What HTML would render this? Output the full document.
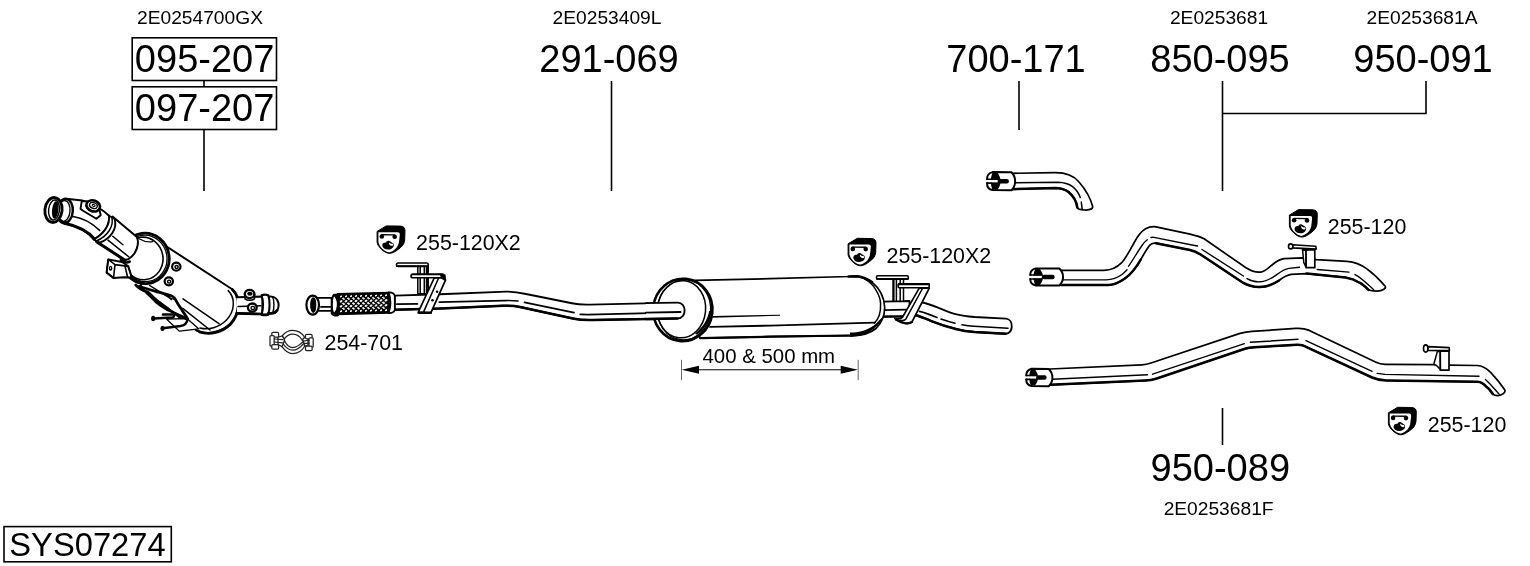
<!DOCTYPE html>
<html><head><meta charset="utf-8">
<style>
html,body{margin:0;padding:0;background:#fff;}
body{width:1530px;height:566px;overflow:hidden;}
svg{display:block;filter:grayscale(1);}
text{font-family:"Liberation Sans",sans-serif;fill:#000;}
.big{font-size:38px;}
.sm{font-size:19.2px;}
.md{font-size:21.4px;}
.ln{stroke:#000;stroke-width:1.6;fill:none;}
.p{stroke:#000;fill:#fff;stroke-linejoin:round;stroke-linecap:round;}
.pn{stroke:#000;fill:none;stroke-linejoin:round;stroke-linecap:round;}
.t{stroke:#000;fill:none;stroke-linejoin:round;stroke-linecap:round;}
</style></head><body>
<svg width="1530" height="566" viewBox="0 0 1530 566">
<rect width="1530" height="566" fill="#fff"/>
<!-- LABELS -->
<g id="labels">
<text class="sm" x="200" y="24.3" text-anchor="middle">2E0254700GX</text>
<text class="big" x="204.6" y="72.2" text-anchor="middle">095-207</text>
<text class="big" x="204.6" y="121.2" text-anchor="middle">097-207</text>
<text class="sm" x="607" y="24.3" text-anchor="middle">2E0253409L</text>
<text class="big" x="609" y="72.2" text-anchor="middle">291-069</text>
<text class="big" x="1016" y="72.2" text-anchor="middle">700-171</text>
<text class="sm" x="1219" y="24.3" text-anchor="middle">2E0253681</text>
<text class="big" x="1220" y="72.2" text-anchor="middle">850-095</text>
<text class="sm" x="1422" y="24.3" text-anchor="middle">2E0253681A</text>
<text class="big" x="1423" y="72.2" text-anchor="middle">950-091</text>
<text class="big" x="1220.3" y="481" text-anchor="middle">950-089</text>
<text class="sm" x="1218.6" y="515.2" text-anchor="middle">2E0253681F</text>
<text class="md" x="416.1" y="250.3">255-120X2</text>
<text class="md" x="324.5" y="350.3">254-701</text>
<text class="md" x="886.5" y="262.5">255-120X2</text>
<text class="md" x="1327.8" y="234.3">255-120</text>
<text class="md" x="1427.8" y="431.9">255-120</text>
<text style="font-size:20.4px" x="702.5" y="363.2">400 &amp; 500 mm</text>
<text style="font-size:32.7px" x="9.3" y="555.6">SYS07274</text>
</g>
<!-- LEADER LINES -->
<g id="lines" class="ln">
<rect x="132.2" y="37.8" width="144.3" height="42.7"/>
<rect x="132.2" y="86.8" width="144.3" height="42.7"/>
<path d="M204 80.5V86.5M204 129.5V191"/>
<path d="M611.5 81V191"/>
<path d="M1019 81V130"/>
<path d="M1222.5 81V191M1222.5 113.5H1426V81"/>
<path d="M1222.5 408V445"/>
<rect x="4" y="526.6" width="167.3" height="35.2"/>
</g>
<!-- PARTS -->
<g id="parts" stroke-width="1.6">
<g id="cat">
<!-- main body -->
<path class="p" stroke-width="2" d="M162,243.5 L231.8,289 C240.5,296 240.5,313 230,324 C221,332.5 207,335.5 196.5,330.5 L140,287 Z"/>
<!-- end cap band -->
<path class="pn" stroke-width="1.5" d="M228.2,290.6 C235.6,298 235,311 226.5,320 C219,327.6 208.5,330.3 200,328"/>
<path class="pn" stroke-width="2.8" d="M232.3,289.6 C241.2,298 240.2,314 230.2,324.5 C222,332.3 210,335.3 199.5,332"/>
<!-- body highlights -->
<path class="t" stroke-width="1.5" d="M183,298.9 L219,323.7 M182.8,308.3 L210,330"/>
<!-- thin plate below -->
<path class="p" stroke-width="1.3" d="M166.7,319.2 L179.4,331.2 L198.9,328.9 L187,318.5 Z"/>
<!-- heat shield thick strokes -->
<path class="pn" stroke-width="1.4" d="M149.5,285.3 L167.9,296.8 L171.5,299.6"/>
<path class="pn" stroke-width="2.6" d="M135.7,285 C139,288.5 143,290.5 147.2,292.4"/>
<path class="pn" stroke-width="4" d="M147.2,292.4 C151,295.5 153.5,298.6 156.4,301.4 C160,304.4 164,307 167.9,309.4"/>
<path class="pn" stroke-width="2.9" d="M167.9,309.4 C172,311.8 177,314.2 181.6,316.3 L186.4,318.8"/>
<path class="pn" stroke-width="2.8" d="M139.2,286.5 C146,288.4 152,290.2 158.7,292.2 C163,293.5 167.5,294.2 171.3,295.7 C174,297 175,298.6 175.9,300.3 C177.6,303.6 179.5,306.5 181.6,309.4 C183.6,312.5 185.5,315.6 187.6,318.8"/>
<path fill="#fff" stroke="#000" stroke-width="1" d="M167.5,296.4 L171.6,296.6 L173.6,299.4 Z"/>
<!-- studs -->
<path class="pn" stroke-width="2.5" d="M153.4,318.5 L172.5,317.4 C174.6,317 174.6,314.5 172.6,314.4 L163,314.6"/>
<path class="pn" stroke-width="2.5" d="M162.8,328.3 L180.5,326.1 C185,325.3 187.2,323 187.5,319"/>
<ellipse cx="153.2" cy="318.5" rx="2.1" ry="2.8" fill="#000"/>
<ellipse cx="162.5" cy="328.4" rx="2.1" ry="2.6" fill="#000"/>
<!-- big ring -->
<ellipse class="p" stroke-width="2.8" cx="145.2" cy="258.4" rx="24" ry="25.2" transform="rotate(-8 145.2 258.4)"/>
<ellipse class="pn" stroke-width="1.3" cx="145" cy="258.4" rx="22" ry="23.3" transform="rotate(-8 145 258.4)"/>
<ellipse class="pn" stroke-width="1.6" cx="143.2" cy="258.4" rx="19.8" ry="21.3" transform="rotate(-8 143.2 258.4)"/>
<path class="t" stroke-width="1.3" d="M139,238.8 C144,241.8 149,242.2 152.8,241.7"/>
<!-- bolts on body -->
<g class="pn" stroke-width="2.2"><ellipse cx="176.3" cy="266.7" rx="4.2" ry="4"/><ellipse cx="168.8" cy="281.3" rx="4.2" ry="4"/></g>
<g class="t" stroke-width="1.4"><ellipse cx="176.6" cy="267" rx="1.6" ry="1.5"/><ellipse cx="169.1" cy="281.6" rx="1.6" ry="1.5"/></g>
<!-- neck cylinder -->
<path class="p" stroke-width="2" d="M112.5,216.5 L136.6,236.8 C140,243 136.5,254.5 128.2,259.3 L124.5,260 L96,241.5 Z"/>
<path class="pn" stroke-width="3" d="M97,242 L125,260.2"/>
<path class="t" stroke-width="1.5" d="M112.8,236.3 L122.9,244.8 M108,240.2 L129,257"/>
<!-- small bracket box -->
<path class="p" stroke-width="1.9" d="M108.2,259.4 L122,262 L128,266 L131.8,277.5 L124,277.2 L113.5,278 L106.6,272.6 Z"/>
<path class="pn" stroke-width="1.6" d="M108.2,259.4 L106.6,272.6 L113.5,278 L115,264.6 Z M115,264.6 L128.5,266.4 M128.5,266.4 L131.8,277.5 M125,266 L127.6,277.2"/>
<ellipse class="pn" stroke-width="1.4" cx="110.6" cy="268.2" rx="1.1" ry="1.8"/>
<path class="pn" stroke-width="2.4" d="M121,260.5 C124,262.6 126.5,263.2 129.8,261.6"/>
<!-- elbow -->
<path class="p" stroke-width="2" d="M66,198.7 L82.5,200.6 C94,204 103,210 109.1,215.8 C110,225 104,234 93.8,239.5 C88,231.5 80,226.5 64.5,223.3 Z"/>
<path class="pn" stroke-width="3" d="M64.5,223.3 C80,226.5 88,231.5 95,239.4"/>
<path class="t" stroke-width="1.7" d="M73,216.5 C83,218 92,223 99.6,230.3"/>
<!-- clamp ring -->
<path class="p" stroke-width="1.9" d="M109.1,215.8 L114.6,219 C117.6,228 111,238.5 99.6,242.7 L93.8,239.5 C104,234 110,225 109.1,215.8 Z"/>
<path class="pn" stroke-width="1.5" d="M111.8,217.2 C114,226 108,236 96.4,241"/>
<!-- sensor boss -->
<path class="p" stroke-width="1.9" d="M81.8,201 L80.5,208.8 L82.6,210.5 L96.4,218.8 L100.7,215.2 L99.6,210.5 L90,201.5 Z"/>
<ellipse class="p" stroke-width="2.6" cx="93.2" cy="205.9" rx="7" ry="5.4" transform="rotate(20 93.2 205.9)"/>
<ellipse class="pn" stroke-width="1.4" cx="93.4" cy="205.5" rx="4" ry="2.8" transform="rotate(20 93.4 205.5)"/>
<ellipse class="pn" stroke-width="1" cx="93.6" cy="205.4" rx="1.6" ry="1" transform="rotate(20 93.6 205.4)"/>
<!-- neck ring -->
<ellipse class="p" stroke-width="2.4" cx="65" cy="211" rx="7.8" ry="12.2" transform="rotate(5 65 211)"/>
<ellipse class="pn" stroke-width="1.4" cx="64" cy="211" rx="6" ry="10.4" transform="rotate(5 64 211)"/>
<path class="pn" stroke-width="3.2" d="M60.5,220.5 C62.5,222.6 65,223.3 67.5,222.6"/>
<!-- flange -->
<ellipse class="p" stroke-width="2.9" cx="53.5" cy="210" rx="8.6" ry="12.5" transform="rotate(6 53.5 210)"/>
<ellipse class="pn" stroke-width="1.4" cx="54" cy="210" rx="5.4" ry="10" transform="rotate(6 54 210)"/>
<ellipse cx="55.2" cy="210" rx="3.2" ry="8.7" fill="#000" transform="rotate(6 55.2 210)"/>
<!-- outlet pipe -->
<path class="p" stroke-width="1.9" d="M236.5,297.3 L262.4,296.5 L262.4,314 L237,313.2"/>
<path class="pn" stroke-width="2.6" d="M237,313.4 L261,314"/>
<path class="t" stroke-width="1.5" d="M238,306.6 L261,305.8"/>
<path class="p" stroke-width="2" d="M268,296.6 C272,296 276,297.6 277.4,300.2 C278.8,303 278.8,307.5 277.2,310.2 C275.6,312.6 272,313.8 268,313.2 Z"/>
<path class="pn" stroke-width="1.4" d="M272.6,296.8 C274.4,300.5 274.4,309 272.6,313"/>
<path class="p" stroke-width="2.1" d="M261.6,295.3 C263.5,294.6 266.5,294.6 268.2,295.2 C270,300 270,309.5 268.2,314.5 C266.5,315 263.5,315 261.6,314.5 C263.2,309 263.2,300.5 261.6,295.3 Z"/>
<path class="pn" stroke-width="2.8" d="M262,314.6 C264,315.1 266.5,315 268.2,314.5 M268.5,313.2 C272,313.8 275.6,312.6 277.2,310.2"/>
<path class="p" stroke-width="1.6" d="M244.7,294.5 L245,298.8 C247.5,300.8 252,300.8 254.4,298.8 L254.6,294.5 Z"/>
<ellipse class="p" stroke-width="2.4" cx="249.6" cy="294" rx="4.8" ry="4.1"/>
<ellipse cx="249.9" cy="293.7" rx="2.7" ry="2" fill="#000"/>
<ellipse class="p" stroke-width="2.3" cx="252.3" cy="307.6" rx="4.4" ry="4.1"/>
<ellipse class="pn" stroke-width="1.3" cx="252.8" cy="307.9" rx="1.8" ry="1.6"/>
</g>
<g id="front">
<!-- pipe body -->
<path class="p" stroke-width="1.9" d="M394.6,295.6 L440,294.2 L506,291.6 C514,291.4 519,292.4 526,294 L572,303.3 C577,304.4 582,304.8 590,304.6 L677.5,302.6 C687,302.4 687,318.6 677.5,318.4 L592.9,320 C585,320.2 580,320 574,318.8 L520,307 C514,305.7 509,305.5 503,305.8 L440,308.6 L394.6,309.7 Z"/>
<path class="pn" stroke-width="2.5" d="M394.6,309.7 L440,308.6 L503,305.8 C509,305.5 514,305.7 520,307 L574,318.8 C580,320 585,320.2 592.9,320 L677.5,318.4"/>
<path class="t" stroke-width="1.7" d="M396.9,304.2 L417.5,303.9 M439.3,302.2 L504,300.6 C510,300.4 514,300.5 518,301 M524.5,302.4 L574,312.6 M580.2,314.4 L588,314.6 L681,312.4"/>
<!-- hanger 1 -->
<path class="p" stroke-width="1.5" d="M417.8,266 L417.8,293.8 L428.2,293.8 L428.2,266 Z"/>
<path class="pn" stroke-width="1.5" d="M420.2,266.5 V293.8 M424.3,266.5 V293.8"/>
<path class="pn" stroke-width="2.4" d="M427,266 V293.5"/>
<rect class="p" stroke-width="1.6" x="396.5" y="263" width="31.8" height="3.4" rx="1.7"/>
<path class="pn" stroke-width="1.8" d="M397,266.2 H428"/>
<path class="p" stroke-width="1.7" d="M434.2,278 L418.7,311.2 L419,313.2 L430.7,313.2 L445.5,280.2 L441,277.5 Z"/>
<path class="pn" stroke-width="1.5" d="M438.4,278.5 L423.3,312.6"/>
<path class="pn" stroke-width="2.6" d="M418.6,312.5 L430.7,312.8"/>
<circle cx="437.1" cy="291.7" r="1.3" fill="#000"/><circle cx="432.5" cy="300.3" r="1.3" fill="#000"/>
<rect class="p" stroke-width="1.6" x="411" y="274.2" width="33" height="3.6" rx="1.8"/>
<path class="pn" stroke-width="1.8" d="M412,274.3 H443"/>
<path d="M439.5,273.6 L445.5,274.5 L446.2,280 L441,278 Z" fill="#000"/>
<!-- flex section -->
<path fill="#000" stroke="#000" stroke-width="1.6" stroke-linejoin="round" d="M337.4,293.9 L389.1,292.6 L389.1,312.9 L337.4,314.4 Z"/>
<path fill="#fff" stroke="#fff" stroke-width="0.9" stroke-linejoin="round" d="M340.00,296.78 L341.00,295.88 L342.00,296.08 L341.00,296.98 Z M345.00,296.66 L346.00,295.76 L347.00,295.96 L346.00,296.86 Z M350.00,296.54 L351.00,295.64 L352.00,295.84 L351.00,296.74 Z M355.00,296.42 L356.00,295.52 L357.00,295.72 L356.00,296.62 Z M360.00,296.30 L361.00,295.40 L362.00,295.60 L361.00,296.50 Z M365.00,296.18 L366.00,295.28 L367.00,295.48 L366.00,296.38 Z M370.00,296.06 L371.00,295.16 L372.00,295.36 L371.00,296.26 Z M375.00,295.94 L376.00,295.04 L377.00,295.24 L376.00,296.14 Z M380.00,295.82 L381.00,294.92 L382.00,295.12 L381.00,296.02 Z M385.00,295.70 L386.00,294.80 L387.00,295.00 L386.00,295.90 Z M342.35,298.50 L343.50,298.10 L344.65,299.20 L343.50,299.60 Z M347.35,298.38 L348.50,297.98 L349.65,299.08 L348.50,299.48 Z M352.35,298.26 L353.50,297.86 L354.65,298.96 L353.50,299.36 Z M357.35,298.14 L358.50,297.74 L359.65,298.84 L358.50,299.24 Z M362.35,298.02 L363.50,297.62 L364.65,298.72 L363.50,299.12 Z M367.35,297.90 L368.50,297.50 L369.65,298.60 L368.50,299.00 Z M372.35,297.78 L373.50,297.38 L374.65,298.48 L373.50,298.88 Z M377.35,297.66 L378.50,297.26 L379.65,298.36 L378.50,298.76 Z M382.35,297.54 L383.50,297.14 L384.65,298.24 L383.50,298.64 Z M339.75,301.74 L341.00,300.54 L342.25,301.04 L341.00,302.24 Z M344.75,301.62 L346.00,300.42 L347.25,300.92 L346.00,302.12 Z M349.75,301.50 L351.00,300.30 L352.25,300.80 L351.00,302.00 Z M354.75,301.38 L356.00,300.18 L357.25,300.68 L356.00,301.88 Z M359.75,301.26 L361.00,300.06 L362.25,300.56 L361.00,301.76 Z M364.75,301.14 L366.00,299.94 L367.25,300.44 L366.00,301.64 Z M369.75,301.02 L371.00,299.82 L372.25,300.32 L371.00,301.52 Z M374.75,300.90 L376.00,299.70 L377.25,300.20 L376.00,301.40 Z M379.75,300.78 L381.00,299.58 L382.25,300.08 L381.00,301.28 Z M384.75,300.66 L386.00,299.46 L387.25,299.96 L386.00,301.16 Z M342.25,303.46 L343.50,302.91 L344.75,304.16 L343.50,304.71 Z M347.25,303.34 L348.50,302.79 L349.75,304.04 L348.50,304.59 Z M352.25,303.22 L353.50,302.67 L354.75,303.92 L353.50,304.47 Z M357.25,303.10 L358.50,302.55 L359.75,303.80 L358.50,304.35 Z M362.25,302.98 L363.50,302.43 L364.75,303.68 L363.50,304.23 Z M367.25,302.86 L368.50,302.31 L369.75,303.56 L368.50,304.11 Z M372.25,302.74 L373.50,302.19 L374.75,303.44 L373.50,303.99 Z M377.25,302.62 L378.50,302.07 L379.75,303.32 L378.50,303.87 Z M382.25,302.50 L383.50,301.95 L384.75,303.20 L383.50,303.75 Z M339.75,306.70 L341.00,305.50 L342.25,306.00 L341.00,307.20 Z M344.75,306.58 L346.00,305.38 L347.25,305.88 L346.00,307.08 Z M349.75,306.46 L351.00,305.26 L352.25,305.76 L351.00,306.96 Z M354.75,306.34 L356.00,305.14 L357.25,305.64 L356.00,306.84 Z M359.75,306.22 L361.00,305.02 L362.25,305.52 L361.00,306.72 Z M364.75,306.10 L366.00,304.90 L367.25,305.40 L366.00,306.60 Z M369.75,305.98 L371.00,304.78 L372.25,305.28 L371.00,306.48 Z M374.75,305.86 L376.00,304.66 L377.25,305.16 L376.00,306.36 Z M379.75,305.74 L381.00,304.54 L382.25,305.04 L381.00,306.24 Z M384.75,305.62 L386.00,304.42 L387.25,304.92 L386.00,306.12 Z M342.35,308.42 L343.50,308.02 L344.65,309.12 L343.50,309.52 Z M347.35,308.30 L348.50,307.90 L349.65,309.00 L348.50,309.40 Z M352.35,308.18 L353.50,307.78 L354.65,308.88 L353.50,309.28 Z M357.35,308.06 L358.50,307.66 L359.65,308.76 L358.50,309.16 Z M362.35,307.94 L363.50,307.54 L364.65,308.64 L363.50,309.04 Z M367.35,307.82 L368.50,307.42 L369.65,308.52 L368.50,308.92 Z M372.35,307.70 L373.50,307.30 L374.65,308.40 L373.50,308.80 Z M377.35,307.58 L378.50,307.18 L379.65,308.28 L378.50,308.68 Z M382.35,307.46 L383.50,307.06 L384.65,308.16 L383.50,308.56 Z M340.00,311.66 L341.00,310.76 L342.00,310.96 L341.00,311.86 Z M345.00,311.54 L346.00,310.64 L347.00,310.84 L346.00,311.74 Z M350.00,311.42 L351.00,310.52 L352.00,310.72 L351.00,311.62 Z M355.00,311.30 L356.00,310.40 L357.00,310.60 L356.00,311.50 Z M360.00,311.18 L361.00,310.28 L362.00,310.48 L361.00,311.38 Z M365.00,311.06 L366.00,310.16 L367.00,310.36 L366.00,311.26 Z M370.00,310.94 L371.00,310.04 L372.00,310.24 L371.00,311.14 Z M375.00,310.82 L376.00,309.92 L377.00,310.12 L376.00,311.02 Z M380.00,310.70 L381.00,309.80 L382.00,310.00 L381.00,310.90 Z M385.00,310.58 L386.00,309.68 L387.00,309.88 L386.00,310.78 Z"/>
<!-- collars -->
<path class="p" stroke-width="1.8" d="M388.6,292.4 C392,292 394.6,294 394.8,296 L394.8,309.8 C394.6,311.8 392,313.4 388.6,313 C390.8,307 390.8,298.5 388.6,292.4 Z"/>
<path fill="#000" d="M334.5,293.8 L339.5,293.8 L339.5,314.4 L334.5,314.8 Z"/>
<path class="p" stroke-width="2" d="M333.8,294.8 C331,299 331,309.8 333.8,314 C339.2,309.8 339.2,299 333.8,294.8 Z"/>
<path class="pn" stroke-width="2.8" d="M332,313 C333,314.8 335,315.3 337.6,315"/>
<!-- neck and flare -->
<path class="p" stroke-width="1.8" d="M317,297.9 L331.6,297.9 L331.6,310.9 L317,310.9 Z"/>
<path class="t" stroke-width="1.9" d="M321,306.9 H331"/>
<ellipse class="p" stroke-width="2.2" cx="312.7" cy="305.1" rx="6.3" ry="9.5"/>
<ellipse cx="313.2" cy="305.1" rx="3.1" ry="7.8" fill="#000"/>
<path class="pn" stroke-width="1" stroke="#fff" d="M314.6,298.6 C316,302 316,308 314.6,311.6"/>
</g>
<g id="muffler">
<!-- tail pipe -->
<path class="p" stroke-width="1.9" d="M921.4,302.2 C928,303.5 934,306 939,308 C946,311 951,313.2 956.7,314.4 C962,315.8 968,316.5 974.4,317 L1006,318.6 C1014,319.3 1013.5,334.3 1005.5,333.7 L974.4,332 C967,331.4 962,330.6 956.7,329.2 C948,327 940,324.5 932,321.3 C926,318.8 921,316.5 915,315 Z"/>
<path class="pn" stroke-width="2.5" d="M915,315 C921,316.5 926,318.8 932,321.3 C940,324.5 948,327 956.7,329.2 C962,330.6 967,331.4 974.4,332 L1005.5,333.7"/>
<path class="t" stroke-width="1.6" d="M919.6,311.4 C925,312.6 931,315 937,317.5 M941,319 C946,320.8 950,322 955,323.2 M962,324.8 C966,325.5 970,326 974,326.3 L1008,328.3"/>
<!-- outlet stub -->
<path class="p" stroke-width="1.8" d="M883,301.6 L909.5,301 L909.5,316.4 L882,316.6 Z"/>
<path class="pn" stroke-width="2.4" d="M881,316.6 L902.5,316.4"/>
<path class="t" stroke-width="1.7" d="M884,310.2 L906,309.6"/>
<!-- body -->
<path class="p" stroke-width="1.7" d="M683,280.6 L770,278.7 L850,276.5 C858,276 866,278 872,282.2 C879,288 884,297 884.6,306.5 C885,315 882,322.5 876,328.5 C870,333.5 861,335.6 852,335.6 L770,336.7 L700,338.1 Z"/>
<path class="pn" stroke-width="2.2" d="M700,338.1 L770,336.7 L852,335.5"/>
<path class="pn" stroke-width="2.6" d="M848.6,276.5 L858,276.2 C864,277 868,279.5 872,282.2"/>
<path d="M850,336.8 C862,337 872,332.8 880.4,322 C881.5,320.5 882.3,318.6 882.6,317 L879,320.4 C873,328 863,332.3 850,332.6 Z" fill="#000"/>
<path class="pn" stroke-width="1.5" d="M864.3,278.9 C870,282 874,286 875.8,289.8 C879,295 880.5,299 880.6,303.4 C880.8,308 880.3,312 879.2,315.6 C878,319 876.5,321 874.5,323.1"/>
<path class="t" stroke-width="1.8" d="M710,326.9 L770,325.6 L874.5,322.7"/>
<path d="M712.4,316 L780,314.8 L780,315.8 L712.4,317.8 Z" fill="#000"/>
<!-- front ellipse -->
<ellipse class="p" stroke-width="2.6" cx="682.8" cy="309.9" rx="29.6" ry="31.2" transform="rotate(6 682.8 309.9)"/>
<ellipse class="pn" stroke-width="1.3" cx="684" cy="309.8" rx="26.6" ry="30" transform="rotate(6 684 309.8)"/>
<ellipse class="p" stroke-width="1.5" cx="681.6" cy="309.3" rx="24" ry="28.6" transform="rotate(6 681.6 309.3)"/>
<path d="M697,334.8 C705,329 710.5,320 712,311 L709.2,311 C707.6,319.5 702.5,328 695,333.5 Z" fill="#000"/>
<!-- pipe re-entering muffler (drawn in front pipe but ensure on top) -->
<path class="p" stroke-width="1.9" d="M646,303.1 L677.5,302.6 C687,302.4 687,318.6 677.5,318.4 L646,319"/>
<path class="pn" stroke-width="2.5" d="M646,319 L677.5,318.4"/>
<path class="t" stroke-width="1.9" d="M646,312.6 L680.5,312"/>
<!-- hanger 2 -->
<path class="p" stroke-width="1.5" d="M893.2,279.2 V301.2 H903.5 V279.2 Z"/>
<path class="pn" stroke-width="1.5" d="M896.4,279.5 V301 M900.2,279.5 V301"/>
<path class="pn" stroke-width="2" d="M893.6,279.2 V301"/>
<rect class="p" stroke-width="1.6" x="876.4" y="275.8" width="32" height="3.3" rx="1.6"/>
<path class="pn" stroke-width="1.8" d="M877,278.9 H908"/>
<path class="p" stroke-width="1.7" d="M919.4,287.9 L902.7,316.9 C901,319 898,319.3 894.7,318.2 L896,319.6 C899,321.5 902,322.6 904.6,323.1 C908,323.6 910.5,323.5 912,321.9 L929.3,288.1 Z"/>
<path class="pn" stroke-width="1.5" d="M922.5,288.5 L905.8,319.2 C904,321 900,320.6 896.5,319.6"/>
<path class="pn" stroke-width="2.4" d="M896,319.6 C899,321.5 902,322.6 904.6,323.1 C908,323.6 910.5,323.5 912,321.9"/>
<rect class="p" stroke-width="1.6" x="898.2" y="283.8" width="31" height="3.9" rx="1"/>
<path class="pn" stroke-width="2.2" d="M899,284.2 H929"/>
</g>
<g id="right">
<path class="p" stroke-width="1.7" d="M1012.5,173.3 L1055,172.7 C1066,172.6 1074,176 1079,182 C1086,190 1090.5,198 1092.7,206.7 C1092.9,209.2 1088,210.3 1084.5,210 C1081,209.8 1077.6,209 1077.3,207.5 C1076.5,201 1074,196.5 1068.5,192 C1064,188.6 1060,188.2 1055,188.1 L1012.5,189.2 Z"/>
<path class="pn" stroke-width="2.5" d="M1012.5,189.2 L1055,188.1 C1060,188.2 1064,188.6 1068.5,192 C1074,196.5 1076.5,201 1077.3,207.5"/>
<path class="t" stroke-width="1.5" d="M1014.8,182.8 L1058,182.3 C1065,182.5 1069,184 1072.6,186.6 C1077,190 1079,194 1080.3,197.5 M1081.3,202 L1082.1,208.6"/>
<path class="p" stroke-width="2.0" d="M992.6,172.1 L1011.4,172.3 C1016.4,177.2 1016.4,185.2 1011.4,190.3 L992.6,190.1 C988.6,189.3 987.1,186.3 987.1,183.7 L987.1,178.7 C987.1,176.1 988.6,173.1 992.6,172.1 Z"/>
<path fill="#000" d="M992.5,172.7 L997.5,172.7 C999.7,176.1 1000.8,178.2 1000.5,181.2 C1000.8,184.2 999.7,186.3 997.5,189.7 L992.5,189.7 C991.3,186.3 990.9,185.2 990.9,181.2 C990.9,177.2 991.3,176.1 992.5,172.7 Z"/>
<rect x="984.5" y="180.05" width="13.3" height="2.30" fill="#fff"/>
<path class="pn" stroke-width="1.6" d="M987.1,179.25 H991.2 M987.1,183.15 H991.2"/>
<rect x="997.8" y="179.00" width="11.1" height="4.40" rx="2" fill="#000"/>
<path class="p" stroke-width="1.7" d="M1061,270.3 L1104,270.3 C1112,270.3 1117,267.5 1121.7,262.7 C1126,258 1130,250 1134.5,242 C1138,235.5 1141,231.5 1145.6,228.8 C1149,226.8 1152,226.2 1156,226.8 L1190,234.2 C1196,235.6 1200,236.6 1204.1,238.8 L1246,267.8 C1251,271 1256,272.6 1260.6,272.1 C1265,271.6 1268,268 1272,265 C1276,261.5 1279,259.3 1284,258.6 L1303,257.9 L1316.3,259.6 L1347,261.3 C1355,262 1361,264.5 1366.6,268.6 C1374,274 1380,280 1385.2,286.2 C1386.5,288.5 1382,291 1377.2,291.2 C1373,291.3 1370.5,290.8 1368.4,289.8 C1365,286.5 1363,284.5 1359.6,282.7 C1355,279.8 1351,278.2 1345.4,277.4 L1306.6,273.6 L1291,274.4 C1287,275 1283,277.5 1279,280.5 C1273,284.5 1266,287.3 1258.9,287.1 C1252,286.9 1247,285 1243,282.7 L1200.6,254.5 C1197,252.3 1194,251 1190,250 L1156,243.2 C1153,242.8 1151,243.5 1149.5,245.5 C1146,250 1144,254 1140.8,259.5 C1136,268 1132,273.5 1124.9,278.5 C1120,282 1115,285 1108,285 L1061,285 Z"/>
<path class="pn" stroke-width="2.5" d="M1061,285 L1108,285 C1115,285 1120,282 1124.9,278.5 C1132,273.5 1136,268 1140.8,259.5 M1156,243.2 L1190,250 C1194,251 1197,252.3 1200.6,254.5 L1243,282.7 C1247,285 1252,286.9 1258.9,287.1 C1266,287.3 1273,284.5 1279,280.5 M1306.6,273.6 L1345.4,277.4 C1351,278.2 1355,279.8 1359.6,282.7 C1363,284.5 1365,286.5 1368.4,289.8"/>
<path class="t" stroke-width="1.4" d="M1063,279.9 L1106,279.9 C1113,279.7 1118,277.5 1122,274.5 C1124,273 1125.6,271.4 1127,269.8 M1128.6,266.2 C1133,260 1138,251 1142,245.5 C1143.6,243.2 1145.4,241.2 1147.3,239.8 M1151,237.5 C1152,237.2 1153,237.2 1154,237.4 L1192,245 L1197.6,246 M1202,249.5 L1243.4,276 M1247,278.6 C1251,281 1255,282.2 1260.6,281.8 C1266,281.4 1269,279.5 1273,277.2 C1278,274 1282,269.8 1288.9,268.4 L1299.5,267.3 M1317.2,269.5 L1349,272.1 M1355,274.6 C1361,277.5 1366,282.5 1373.7,289.8"/>
<path class="p" stroke-width="2.0" d="M1035.8,268.4 L1059.3,268.6 C1064.3,273.2 1064.3,280.8 1059.3,285.6 L1035.8,285.4 C1031.8,284.6 1030.3,281.6 1030.3,279.5 L1030.3,274.5 C1030.3,272.4 1031.8,269.4 1035.8,268.4 Z"/>
<path fill="#000" d="M1035.2,269.0 L1039.9,269.0 C1042.1,272.4 1043.2,274.0 1042.9,277.0 C1043.2,280.0 1042.1,281.6 1039.9,285.0 L1035.2,285.0 C1034.0,281.6 1033.6,281.0 1033.6,277.0 C1033.6,273.0 1034.0,272.4 1035.2,269.0 Z"/>
<rect x="1027.7" y="275.85" width="14.2" height="2.30" fill="#fff"/>
<path class="pn" stroke-width="1.6" d="M1030.3,275.05 H1033.9 M1030.3,278.95 H1033.9"/>
<rect x="1041.9" y="274.80" width="12.7" height="4.40" rx="2" fill="#000"/>
<path class="p" stroke-width="1.5" d="M1302.6,250.2 L1306,249.8 L1306,267.2 L1303.8,262.6 Z"/>
<path class="p" stroke-width="1.7" d="M1306,249.8 L1314.8,249.8 L1314.8,267.7 L1306.2,267.7 Z"/>
<path class="pn" stroke-width="2.4" d="M1303,249.8 L1306.5,249.8"/>
<path class="p" stroke-width="1.6" d="M1292.6,244.8 L1315.8,246.3 L1316.2,249.1 L1292.6,247.9 Z"/>
<ellipse class="p" stroke-width="1.6" cx="1290.7" cy="246.4" rx="2.2" ry="2.5"/>
<path class="p" stroke-width="1.7" d="M1050,369 L1142,364.8 C1146,364.6 1148,364 1151,363 L1240,333.4 C1245,332 1248,331.6 1252,331.4 L1296,328.4 C1302,328 1305,328.6 1309.3,330.4 L1376,362.3 C1379,363.8 1381,364.3 1385,364.4 L1433.3,364.7 L1448.6,365.1 L1477,365.5 C1483,365.7 1487,368.5 1491.1,372.8 C1496,378 1500.5,383.5 1504.7,389.8 C1506,392.5 1502,395.5 1497.9,395.7 C1495.5,395.8 1494,395.2 1492.8,394 C1490,389.5 1488.5,388 1486,386.4 C1483.5,383.3 1481,382 1477.5,381.8 L1386,380.5 C1381,380.4 1377,379.6 1372.1,377.5 L1306,346.8 C1303,345 1301,344.6 1297,344.8 L1254,347.3 C1250,347.5 1248,347.8 1245,348.8 L1156,378.7 C1152,380 1149,380.4 1145,380.6 L1050,384.8 Z"/>
<path class="pn" stroke-width="2.5" d="M1050,384.8 L1145,380.6 C1149,380.4 1152,380 1156,378.7 L1245,348.8 C1248,347.8 1250,347.5 1254,347.3 L1297,344.8 C1301,344.6 1303,345 1306,346.8 L1372.1,377.5 C1377,379.6 1381,380.4 1386,380.5 L1477.5,381.8 C1481,382 1483.5,383.3 1486,386.4 C1488.5,388 1490,389.5 1492.8,394"/>
<path class="t" stroke-width="1.4" d="M1052,379.3 L1147.5,374.8 M1152.6,374.2 L1244.4,343.7 M1250.3,342.3 L1298,339.3 M1306,340.6 L1372.1,371.3 M1377.2,373.4 L1385,374.4 L1479,376.2 M1485.5,379.5 C1490,383.5 1494,388.5 1499.6,394.6"/>
<path class="p" stroke-width="2.0" d="M1031.8,368.7 L1048.7,368.9 C1053.7,373.6 1053.7,381.3 1048.7,386.2 L1031.8,386.0 C1027.8,385.2 1026.3,382.2 1026.3,379.9 L1026.3,374.9 C1026.3,372.7 1027.8,369.7 1031.8,368.7 Z"/>
<path fill="#000" d="M1030.9,369.3 L1034.9,369.3 C1037.1,372.7 1038.2,374.4 1037.9,377.4 C1038.2,380.4 1037.1,382.2 1034.9,385.6 L1030.9,385.6 C1029.7,382.2 1029.3,381.4 1029.3,377.4 C1029.3,373.4 1029.7,372.7 1030.9,369.3 Z"/>
<rect x="1023.7" y="376.30" width="12.7" height="2.30" fill="#fff"/>
<path class="pn" stroke-width="1.6" d="M1026.3,375.50 H1029.6 M1026.3,379.40 H1029.6"/>
<rect x="1036.4" y="375.25" width="10.2" height="4.40" rx="2" fill="#000"/>
<path class="p" stroke-width="1.5" d="M1437.4,351.4 L1440.2,351.2 L1440.4,369.6 L1436.5,365.4 L1433.8,364.2 Z"/>
<path class="p" stroke-width="1.7" d="M1440.2,351.2 L1449,351.2 L1449,370.2 L1440.4,370.2 Z"/>
<path class="p" stroke-width="1.6" d="M1427.8,346.6 L1449.2,347.6 L1449.4,350.6 L1427.8,350.4 Z"/>
<ellipse class="p" stroke-width="1.6" cx="1425.7" cy="348.5" rx="2.2" ry="3.6"/>
</g>
<defs><g id="rub">
<path fill="#000" stroke="#000" stroke-width="1" stroke-linejoin="round" d="M0.3,6.2 L9.5,0.7 L23.7,0.9 C26.7,1.1 28.2,2.8 28.2,5.3 L27.9,14.8 C27.4,19.3 24.7,21.8 21.7,24.0 C18.7,26.3 15.7,28.1 12.6,28.2 C9.5,28.0 6.7,26.1 4.4,23.8 C2.0,21.3 0.5,19.3 0.3,17.1 Z"/>
<path fill="#fff" d="M1.6,7.0 L20.8,7.0 C22.7,7.2 23.2,8.2 23.0,9.8 L22.1,17.6 C21.1,21.4 19.0,23.7 16.7,25.2 C15.0,26.4 13.4,27.0 12.0,27.0 C9.4,26.7 7.2,25.1 5.3,23.2 C3.3,21.1 1.9,18.8 1.6,16.7 Z"/>
<path fill="none" stroke="#000" stroke-width="1.4" stroke-linecap="round" d="M4.9,9.5 L18.0,9.7"/>
<circle cx="5.0" cy="11.3" r="2.3" fill="#000"/>
<circle cx="17.9" cy="11.5" r="2.3" fill="#000"/>
<path fill="#000" d="M5.5,19.8 C5.8,17.5 8.2,17.0 9.4,17.3 C9.5,15.7 11.4,15.0 12.7,15.7 C13.7,16.3 15.5,17.6 16.7,18.3 C17.6,20.0 16.9,22.2 14.8,23.5 C12.2,24.8 9.2,24.6 7.4,23.3 C6.2,22.4 5.4,21.1 5.5,19.8 Z"/>
<path fill="#fff" d="M12.1,17.0 C11.7,19.2 13.5,21.0 15.9,20.5 C16.8,19.8 16.6,18.7 15.7,18.3 C14.4,18.8 13.2,18.2 12.1,17.0 Z"/>
</g></defs>
<g id="icons">
<use href="#rub" x="376.8" y="225.2"/>
<use href="#rub" x="847.8" y="237.6"/>
<use href="#rub" x="1289.1" y="208.9"/>
<use href="#rub" x="1388.1" y="406.6"/>
<g stroke="#222" fill="#fff" stroke-width="1.25" stroke-linejoin="round" stroke-linecap="round">
<path d="M282.1,336 C285,332.5 289,330.4 292.6,330.4 C297,330.4 302,333 304.7,337.4 L302.2,340 C300,336.5 296,334.2 292.6,334.2 C289,334.2 286.5,336 284.4,339 Z"/>
<path d="M282.1,346.6 C285,351 289,353.6 292.6,353.6 C297,353.6 302,350.8 304.7,346.3 L303.5,341.2 C300,345 296,347.6 292.6,347.6 C289,347.6 286.5,345 284.4,340.5 Z"/>
<path fill="none" d="M283.3,344 C286,348 289,350.1 292.6,350.1 C296,350.1 300,348 303.2,343.8"/>
<path d="M284.4,339 L282.1,336 L278,337.2 L278,344.5 L282.1,346.6 L284.4,340.5 Z"/>
<path d="M304.7,337.4 L302.2,340 L303.5,341.2 L304.7,346.3 L308,345.2 L308,338.3 Z"/>
<rect x="271.8" y="332.3" width="6.8" height="4.8" rx="1.2"/>
<rect x="270" y="335.6" width="4.2" height="10.6" rx="1"/>
<rect x="271.8" y="344.6" width="6.8" height="4.6" rx="1.2"/>
<path fill="none" d="M274.2,339 L283,339.6 M274.2,342 L282.5,342.8"/>
<rect x="305.5" y="334.4" width="6.6" height="4.4" rx="1.2"/>
<rect x="309" y="337.8" width="4.2" height="9.4" rx="1"/>
<rect x="305.5" y="346.2" width="6.6" height="4.4" rx="1.2"/>
<path fill="none" d="M303.5,341 L309,340.4 M304,343.6 L309,343.2"/>
</g>
<path stroke="#555" stroke-width="0.9" fill="none" d="M681.5,359.8 V380.2 M858.2,359.8 V380.2"/>
<path stroke="#000" stroke-width="1.1" fill="none" d="M690,369.7 H850"/>
<path fill="#000" d="M681.8,369.7 L699,365.7 L699,373.7 Z M857.9,369.7 L840.7,365.7 L840.7,373.7 Z"/>
</g>
</g>
</svg>
</body></html>
